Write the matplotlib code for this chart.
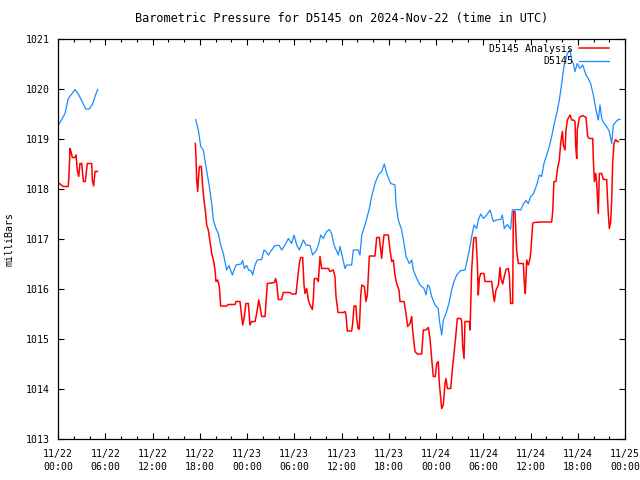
import numpy as np
import matplotlib
matplotlib.use("Agg")
import matplotlib.pyplot as plt
from matplotlib.ticker import MultipleLocator

# hours since 2024-11-22 00:00 UTC, pressure in mb
obs_h = [0.0, 0.17, 0.89, 1.31, 1.74, 2.16, 2.58, 3.01, 3.52, 3.97, 4.40, 4.70, 5.04,
         np.nan,
         17.48, 17.82, 18.12, 18.45, 18.79, 19.22, 19.52, 19.73, 20.06, 20.36, 20.66,
         20.99, 21.42, 21.71, 22.14, 22.6, 23.24, 23.45, 23.66, 23.96, 24.25, 24.51,
         24.72, 25.02, 25.31, 25.86, 26.16, 26.41, 26.71, 27.13, 27.56, 28.1, 28.4,
         28.83, 29.25, 29.67, 29.97, 30.31, 30.64, 31.15, 31.49, 32.0, 32.34, 32.84,
         33.06, 33.36, 33.69, 34.12, 34.45, 34.75, 35.05, 35.6, 35.81, 36.02, 36.44,
         36.66, 37.29, 37.5, 38.13, 38.35, 38.57, 38.98, 39.28, 39.54, 39.83, 40.25,
         40.68, 41.1, 41.44, 41.74, 42.07, 42.25, 42.79, 42.92, 43.21, 43.64, 43.94,
         44.19, 44.61, 44.92, 45.12, 45.55, 45.97, 46.48, 46.73, 46.95, 47.15, 47.45,
         47.87, 48.29, 48.42, 48.72, 48.93, 49.36, 49.69, 49.99, 50.29, 50.63, 51.14,
         51.68, 51.97, 52.32, 52.53, 52.83, 53.17, 53.37, 53.68, 54.01, 54.44, 54.86,
         55.28, 55.62, 56.21, 56.42, 56.67, 57.05, 57.48, 57.69, 58.24, 58.76, 59.09,
         59.43, 59.72, 60.02, 60.36, 60.79, 61.12, 61.42, 61.71, 62.06, 62.39, 62.69,
         62.98, 63.33, 63.66, 63.96, 64.25, 64.51, 64.68, 65.02, 65.23, 65.43, 65.65,
         65.94, 66.29, 66.63, 67.05, 67.34, 67.64, 67.98, 68.32, 68.61, 68.83, 69.04,
         69.33, 69.67, 70.01, 70.31, 70.52, 70.86, 71.15, 71.37]
obs_p = [1019.28, 1019.31, 1019.51, 1019.81, 1019.90, 1019.99, 1019.90, 1019.77, 1019.60,
         1019.60, 1019.70, 1019.85, 1019.99,
         np.nan,
         1019.39, 1019.18, 1018.85, 1018.78, 1018.45, 1018.05, 1017.71, 1017.38, 1017.21,
         1017.11, 1016.88, 1016.71, 1016.38, 1016.47, 1016.28, 1016.48, 1016.50, 1016.57,
         1016.41, 1016.47, 1016.37, 1016.37, 1016.28, 1016.48, 1016.58, 1016.59, 1016.78,
         1016.75, 1016.68, 1016.78, 1016.87, 1016.87, 1016.78, 1016.88, 1017.01, 1016.91,
         1017.08, 1016.88, 1016.78, 1016.98, 1016.88, 1016.87, 1016.68, 1016.78, 1016.88,
         1017.08, 1017.01, 1017.15, 1017.19, 1017.11, 1016.88, 1016.68, 1016.85, 1016.71,
         1016.41, 1016.48, 1016.48, 1016.78, 1016.78, 1016.68, 1017.08, 1017.28, 1017.45,
         1017.61, 1017.85, 1018.11, 1018.28, 1018.35, 1018.50, 1018.31, 1018.18, 1018.11,
         1018.08, 1017.71, 1017.38, 1017.18, 1016.91, 1016.65, 1016.51, 1016.58, 1016.38,
         1016.21, 1016.08, 1016.01, 1015.88, 1016.08, 1016.05, 1015.85, 1015.68, 1015.61,
         1015.38, 1015.08, 1015.38, 1015.55, 1015.75, 1015.98, 1016.15, 1016.28, 1016.37,
         1016.38, 1016.58, 1016.85, 1017.05, 1017.28, 1017.21, 1017.38, 1017.50, 1017.41,
         1017.48, 1017.58, 1017.35, 1017.38, 1017.39, 1017.48, 1017.21, 1017.29, 1017.20,
         1017.58, 1017.59, 1017.58, 1017.70, 1017.77, 1017.71, 1017.85, 1017.90, 1018.08,
         1018.28, 1018.25, 1018.51, 1018.68, 1018.85, 1019.05, 1019.28, 1019.51, 1019.78,
         1020.11, 1020.45, 1020.61, 1020.71, 1020.78, 1020.58, 1020.51, 1020.35, 1020.51,
         1020.41, 1020.48, 1020.28, 1020.21, 1020.11, 1019.88, 1019.58, 1019.38, 1019.68,
         1019.41, 1019.31, 1019.25, 1019.15, 1018.91, 1019.28, 1019.35, 1019.39, 1019.39]

ana_h = [0.0, 0.67, 1.30, 1.39, 1.52, 1.65, 1.82, 2.16, 2.29, 2.45, 2.63, 2.79, 3.01, 3.22,
         3.47, 3.72, 4.28, 4.36, 4.53, 4.70, 5.0,
         np.nan,
         17.44, 17.52, 17.61, 17.74, 17.82, 17.95, 18.2, 18.37, 18.54, 18.75, 18.88, 19.09,
         19.3, 19.52, 19.73, 19.94, 20.06, 20.28, 20.48, 20.66, 21.42, 21.63, 22.48, 22.6,
         23.11, 23.32, 23.45, 23.62, 23.87, 24.17, 24.38, 24.6, 25.02, 25.23, 25.49, 25.65,
         25.87, 26.29, 26.58, 27.47, 27.64, 27.77, 27.98, 28.4, 28.61, 29.46, 29.71, 30.22,
         30.39, 30.64, 30.82, 31.07, 31.24, 31.37, 31.58, 31.79, 32.0, 32.3, 32.42, 32.55,
         32.84, 33.06, 33.27, 33.48, 34.33, 34.54, 34.96, 35.17, 35.3, 35.56, 36.23, 36.44,
         36.57, 36.74, 37.29, 37.42, 37.59, 37.84, 37.93, 38.13, 38.26, 38.44, 38.57, 38.9,
         39.11, 39.28, 39.54, 40.25, 40.47, 40.8, 40.98, 41.1, 41.23, 41.4, 41.95, 42.16,
         42.37, 42.58, 42.79, 43.0, 43.3, 43.43, 43.94, 44.19, 44.4, 44.7, 44.92, 44.99,
         45.12, 45.33, 45.63, 46.18, 46.39, 46.69, 47.03, 47.24, 47.45, 47.66, 47.91, 48.09,
         48.29, 48.42, 48.6, 48.72, 48.93, 49.06, 49.14, 49.27, 49.44, 49.87, 50.07, 50.29,
         50.54, 50.71, 51.14, 51.26, 51.39, 51.56, 51.68, 52.23, 52.32, 52.53, 52.74, 52.83,
         53.08, 53.25, 53.37, 53.5, 53.68, 54.1, 54.22, 55.07, 55.28, 55.41, 55.62, 55.92,
         56.13, 56.25, 56.47, 56.67, 56.89, 57.18, 57.31, 57.48, 57.74, 57.82, 58.03, 58.24,
         58.45, 59.09, 59.22, 59.34, 59.52, 59.72, 59.94, 60.06, 60.28, 60.44, 61.21, 62.69,
         62.82, 62.98, 63.24, 63.4, 63.66, 63.83, 64.04, 64.17, 64.38, 64.51, 64.68, 65.02,
         65.23, 65.43, 65.65, 65.74, 65.87, 65.94, 66.2, 66.63, 67.05, 67.26, 67.47, 67.9,
         67.98, 68.11, 68.29, 68.41, 68.54, 68.61, 68.74, 69.04, 69.25, 69.67, 69.75, 69.88,
         70.01, 70.18, 70.31, 70.43, 70.6, 70.81, 71.02, 71.15]
ana_p = [1018.13, 1018.05, 1018.05, 1018.25, 1018.81, 1018.75, 1018.63, 1018.63, 1018.68,
         1018.38, 1018.25, 1018.51, 1018.51, 1018.15, 1018.15, 1018.51, 1018.51, 1018.18,
         1018.06, 1018.35, 1018.35,
         np.nan,
         1018.91, 1018.65, 1018.18, 1017.95, 1018.18, 1018.45, 1018.45, 1018.05, 1017.78,
         1017.51, 1017.28, 1017.18, 1016.95, 1016.71, 1016.58, 1016.38, 1016.15, 1016.18,
         1016.05, 1015.66, 1015.66, 1015.69, 1015.69, 1015.75, 1015.75, 1015.45, 1015.28,
         1015.41, 1015.71, 1015.71, 1015.28, 1015.35, 1015.35, 1015.51, 1015.78, 1015.65,
         1015.45, 1015.45, 1016.11, 1016.13, 1016.21, 1016.11, 1015.79, 1015.79, 1015.93,
         1015.93, 1015.90, 1015.90, 1016.15, 1016.51, 1016.63, 1016.63, 1016.08, 1015.91,
         1016.01, 1015.78, 1015.68, 1015.59, 1015.78, 1016.21, 1016.21, 1016.15, 1016.65,
         1016.41, 1016.41, 1016.35, 1016.38, 1016.25, 1015.85, 1015.53, 1015.53, 1015.55,
         1015.48, 1015.16, 1015.16, 1015.31, 1015.66, 1015.66, 1015.41, 1015.20, 1015.20,
         1015.85, 1016.08, 1016.05, 1015.75, 1015.88, 1016.66, 1016.66, 1017.03, 1017.03,
         1016.78, 1016.61, 1016.85, 1017.08, 1017.08, 1016.78, 1016.55, 1016.58, 1016.28,
         1016.11, 1015.98, 1015.75, 1015.75, 1015.51, 1015.25, 1015.31, 1015.45, 1015.25,
         1015.05, 1014.75, 1014.70, 1014.70, 1015.18, 1015.18, 1015.23, 1015.01, 1014.61,
         1014.25, 1014.25, 1014.51, 1014.55, 1014.11, 1013.81, 1013.61, 1013.68, 1013.95,
         1014.11, 1014.21, 1014.01, 1014.01, 1014.38, 1014.71, 1015.11, 1015.41, 1015.41,
         1015.35, 1014.85, 1014.61, 1015.35, 1015.35, 1015.18, 1016.38, 1016.91, 1017.03,
         1017.03, 1016.51, 1015.88, 1016.21, 1016.31, 1016.31, 1016.15, 1016.15, 1015.88,
         1015.75, 1015.98, 1016.08, 1016.43, 1016.21, 1016.10, 1016.25, 1016.39, 1016.41,
         1016.28, 1015.71, 1015.71, 1017.55, 1017.55, 1016.78, 1016.51, 1016.51, 1016.11,
         1015.91, 1016.58, 1016.48, 1016.61, 1016.78, 1017.31, 1017.33, 1017.34, 1017.34,
         1017.55, 1018.15, 1018.15, 1018.38, 1018.58, 1018.91, 1019.15, 1018.88, 1018.78,
         1019.18, 1019.38, 1019.48, 1019.38, 1019.38, 1019.35, 1018.85, 1018.61, 1019.18,
         1019.43, 1019.47, 1019.43, 1019.05, 1019.01, 1019.01, 1018.58, 1018.15, 1018.31,
         1018.11, 1017.71, 1017.51, 1018.31, 1018.31, 1018.19, 1018.19, 1017.91, 1017.51,
         1017.21, 1017.35, 1017.78, 1018.51, 1018.91, 1018.99, 1018.95, 1018.95]

tick_h = list(range(0, 73, 6))
tick_lab = ["11/%d\n%02d:00" % (22 + h // 24, h % 24) for h in tick_h]

plt.rcParams['font.family'] = ['DejaVu Sans Mono']
plt.rcParams['font.size'] = 7.1

fig = plt.figure(figsize=(6.4, 4.8), dpi=100)
ax = fig.add_axes([58/640, 1-439/480, 567/640, 400/480])

ax.plot(ana_h, ana_p, color='#ff0000', lw=1.1, label='D5145 Analysis')
ax.plot(obs_h, obs_p, color='#1a8cff', lw=0.9, label='D5145')

ax.set_xlim(0, 72)
ax.set_ylim(1013, 1021)
ax.set_xticks(tick_h)
ax.set_xticklabels(tick_lab)
for t in ax.get_xticklabels():
    t.set_linespacing(1.35)
ax.xaxis.set_minor_locator(MultipleLocator(2))
ax.yaxis.set_major_locator(MultipleLocator(1))
ax.tick_params(which='both', direction='in', top=True, right=True, width=0.8)
ax.tick_params(which='major', length=4)
ax.tick_params(which='minor', length=2.2)
ax.tick_params(axis='x', pad=7.5)
ax.tick_params(axis='y', pad=6)
for s in ax.spines.values():
    s.set_linewidth(0.9)

ax.set_ylabel('milliBars')
ax.yaxis.set_label_coords(-0.076, 0.5)
ax.set_title('Barometric Pressure for D5145 on 2024-Nov-22 (time in UTC)', pad=12)

ax.legend(loc='upper right', bbox_to_anchor=(0.98, 1.0), frameon=False,
          markerfirst=False, handlelength=3.0, handletextpad=0.6,
          labelspacing=0.25, borderaxespad=0.3, borderpad=0.2)

fig.savefig('out.png', dpi=100)
